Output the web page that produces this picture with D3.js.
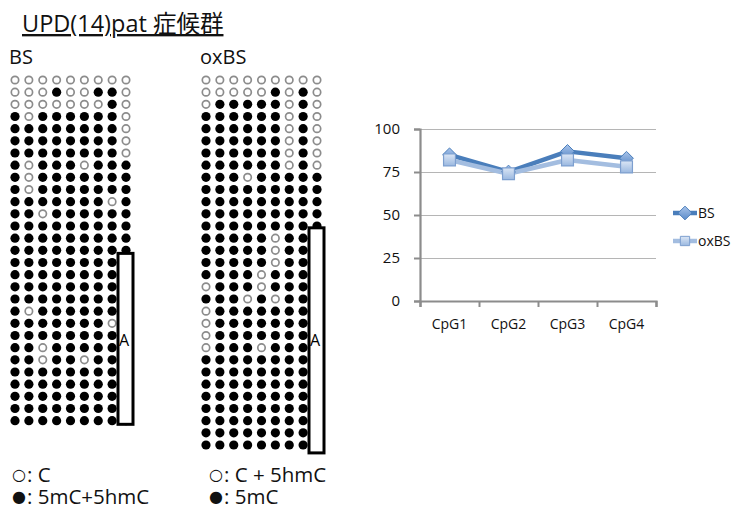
<!DOCTYPE html>
<html>
<head>
<meta charset="utf-8">
<script src="https://cdn.jsdelivr.net/npm/d3@7"></script>
<style>
  body { margin: 0; background: #fff; }
  text { font-family: "Open Sans", "Noto Sans CJK JP", sans-serif; }
</style>
</head>
<body>
<div id="chart"></div>
<script>
// bisulfite clone rows, one string per clone, "1" = filled (methylated), "0" = open
const bsRows = [
  "000000000", "000100110", "000000010", "101111110", "111111110",
  "111111110", "111111110", "101110111", "101111111", "101111111",
  "111111101", "110111111", "111111111", "111111111", "111111111",
  "111111111", "111111111", "111111111", "111111111", "101111111",
  "111111101", "111111111", "110111111", "110110111", "111111111",
  "111111111", "111111111", "111111111", "111111111"
];
const oxbsRows = [
  "000000000", "000001010", "011111010", "111111010", "111111010",
  "111111010", "111111010", "111111010", "111011111", "111111111",
  "111111111", "111111111", "111111111", "111110111", "111110111",
  "111110111", "111101111", "011101111", "111010111", "011111111",
  "011111111", "011111111", "011101111", "111111111", "111111111",
  "111111111", "111111111", "111111111", "111111111", "111111111",
  "111111111"
];

// key texts under each matrix
const bsKey = [["○", ": C"], ["●", ": 5mC+5hmC"]];
const oxbsKey = [["○", ": C + 5hmC"], ["●", ": 5mC"]];

// line chart
const cpgSites = ["CpG1", "CpG2", "CpG3", "CpG4"];
const bsValues = [85, 75, 87, 83];
const oxbsValues = [82, 74, 82, 78];
const yTicks = [0, 25, 50, 75, 100];

const W = 737, H = 515;
const svg = d3.select("#chart").append("svg")
  .attr("width", W).attr("height", H);

svg.append("rect").attr("width", W).attr("height", H).attr("fill", "#fff");

// gradients for the markers
const defs = svg.append("defs");
const gBS = defs.append("linearGradient").attr("id", "gradBS")
  .attr("x1", 0).attr("y1", 0).attr("x2", 0).attr("y2", 1);
gBS.append("stop").attr("offset", "0%").attr("stop-color", "#a9c4ea");
gBS.append("stop").attr("offset", "100%").attr("stop-color", "#5b8bc9");
const gOX = defs.append("linearGradient").attr("id", "gradOX")
  .attr("x1", 0).attr("y1", 0).attr("x2", 0).attr("y2", 1);
gOX.append("stop").attr("offset", "0%").attr("stop-color", "#dbe6f5");
gOX.append("stop").attr("offset", "100%").attr("stop-color", "#9ab8e0");

// title
svg.append("text")
  .attr("x", 22).attr("y", 32)
  .attr("font-size", 23.5)
  .attr("fill", "#111")
  .style("text-decoration", "underline")
  .text("UPD(14)pat 症候群");

// dot matrices
const row = d3.scaleLinear().domain([0, 30]).range([80, 445]);

function drawMatrix(rows, x0, label, lx, kx, boxFrom, boxTo, key) {
  const col = d3.scaleLinear().domain([0, 8]).range([x0, x0 + 111]);
  const g = svg.append("g");

  g.append("text")
    .attr("x", lx).attr("y", 64)
    .attr("font-size", 20)
    .attr("fill", "#111")
    .text(label);

  const cells = rows.flatMap((r, i) =>
    r.split("").map((c, j) => ({ i, j, m: c === "1" })));

  g.selectAll("circle")
    .data(cells)
    .join("circle")
    .attr("cx", d => col(d.j))
    .attr("cy", d => row(d.i))
    .attr("r", d => d.m ? 4.6 : 3.7)
    .attr("fill", d => d.m ? "#000" : "#fff")
    .attr("stroke", d => d.m ? "none" : "#8c8c8c")
    .attr("stroke-width", 1.7);

  // white box over the last column
  const bx = col(8) - 8, bw = 15;
  const by = row(boxFrom), bh = row(boxTo) - row(boxFrom);
  g.append("rect")
    .attr("x", bx).attr("y", by)
    .attr("width", bw).attr("height", bh)
    .attr("fill", "#fff")
    .attr("stroke", "#000")
    .attr("stroke-width", 3);
  g.append("text")
    .attr("x", bx + 1).attr("y", 346)
    .attr("font-family", "Liberation Sans")
    .attr("font-size", 16)
    .text("A");

  // key below the matrix, one text with two lines
  const t = g.append("text")
    .attr("x", kx).attr("y", 482)
    .attr("font-size", 20.5).attr("fill", "#111");
  key.forEach(([sym, txt], k) => {
    t.append("tspan").attr("x", kx).attr("dy", k === 0 ? -2 : 20)
      .attr("font-family", "DejaVu Sans").attr("font-size", 16).text(sym);
    t.append("tspan").attr("dx", 1).attr("dy", 2).text(txt);
  });
}

drawMatrix(bsRows, 15, "BS", 9, 12, 14.25, 28.3, bsKey);
drawMatrix(oxbsRows, 206, "oxBS", 200, 209, 12.15, 30.65, oxbsKey);

// line chart
const x = d3.scaleBand().domain(cpgSites).range([420, 656]);
const xEdge = d3.scaleLinear().domain([0, cpgSites.length]).range([420, 656]);
const y = d3.scaleLinear().domain([0, 100]).range([301, 129]);

// gridlines
svg.append("g")
  .attr("transform", "translate(420,0)")
  .call(d3.axisLeft(y).tickValues(yTicks.slice(1)).tickSize(-236).tickFormat(""))
  .call(g => g.select(".domain").remove())
  .call(g => g.selectAll("line").attr("stroke", "#b5b5b5").attr("stroke-width", 1));

// y axis
svg.append("g")
  .attr("transform", "translate(420,0)")
  .call(d3.axisLeft(y).tickValues(yTicks).tickSize(6).tickPadding(14))
  .call(g => g.select(".domain").attr("stroke", "#8c8c8c").attr("stroke-width", 2.2))
  .call(g => g.selectAll("line").attr("stroke", "#8c8c8c").attr("stroke-width", 2))
  .call(g => g.selectAll("text")
    .attr("font-family", "Open Sans").attr("font-size", 15).attr("fill", "#111"));

// x axis
svg.append("g")
  .attr("transform", "translate(0,301)")
  .call(d3.axisBottom(xEdge).ticks(cpgSites.length).tickSize(6).tickFormat(""))
  .call(g => g.select(".domain").attr("stroke", "#8c8c8c").attr("stroke-width", 2.2))
  .call(g => g.selectAll("line").attr("stroke", "#8c8c8c").attr("stroke-width", 2));

svg.append("g")
  .attr("transform", "translate(0,301)")
  .call(d3.axisBottom(x).tickSize(0).tickPadding(18))
  .call(g => g.select(".domain").remove())
  .call(g => g.selectAll("text")
    .attr("font-family", "Open Sans").attr("font-size", 14).attr("fill", "#111"));

const cx = d => x(d) + x.bandwidth() / 2;
const line = d3.line().x((d, i) => cx(cpgSites[i])).y(d => y(d));

svg.append("path").datum(bsValues)
  .attr("d", line).attr("fill", "none")
  .attr("stroke", "#4a7ebb").attr("stroke-width", 4.5)
  .attr("stroke-linejoin", "round");
svg.append("path").datum(oxbsValues)
  .attr("d", line).attr("fill", "none")
  .attr("stroke", "#a3bde0").attr("stroke-width", 4.5)
  .attr("stroke-linejoin", "round");

const diamond = d3.symbol().type(d3.symbolDiamond2).size(120);
const square = d3.symbol().type(d3.symbolSquare2).size(180);

svg.append("g").selectAll("path")
  .data(bsValues)
  .join("path")
  .attr("transform", (d, i) => `translate(${cx(cpgSites[i])},${y(d)})`)
  .attr("d", diamond)
  .attr("fill", "url(#gradBS)")
  .attr("stroke", "#4a7ebb").attr("stroke-width", 1);

svg.append("g").selectAll("path")
  .data(oxbsValues)
  .join("path")
  .attr("transform", (d, i) => `translate(${cx(cpgSites[i])},${y(d)})`)
  .attr("d", square)
  .attr("fill", "url(#gradOX)")
  .attr("stroke", "#7d9fcf").attr("stroke-width", 1.2);

// chart legend
const legend = [
  { name: "BS", color: "#4a7ebb", sym: diamond, fill: "url(#gradBS)", stroke: "#4a7ebb", ly: 213 },
  { name: "oxBS", color: "#a3bde0", sym: d3.symbol().type(d3.symbolSquare2).size(110), fill: "url(#gradOX)", stroke: "#7d9fcf", ly: 241 }
];
const lg = svg.append("g").selectAll("g").data(legend).join("g")
  .attr("transform", d => `translate(673,${d.ly})`);
lg.append("line").attr("x1", 0).attr("x2", 24)
  .attr("stroke", d => d.color).attr("stroke-width", 4.5);
lg.append("path").attr("transform", "translate(12,0)")
  .attr("d", d => d.sym())
  .attr("fill", d => d.fill).attr("stroke", d => d.stroke).attr("stroke-width", 1);
lg.append("text").attr("x", 25).attr("y", 5)
  .attr("font-size", 14).attr("fill", "#111")
  .text(d => d.name);
</script>
</body>
</html>
